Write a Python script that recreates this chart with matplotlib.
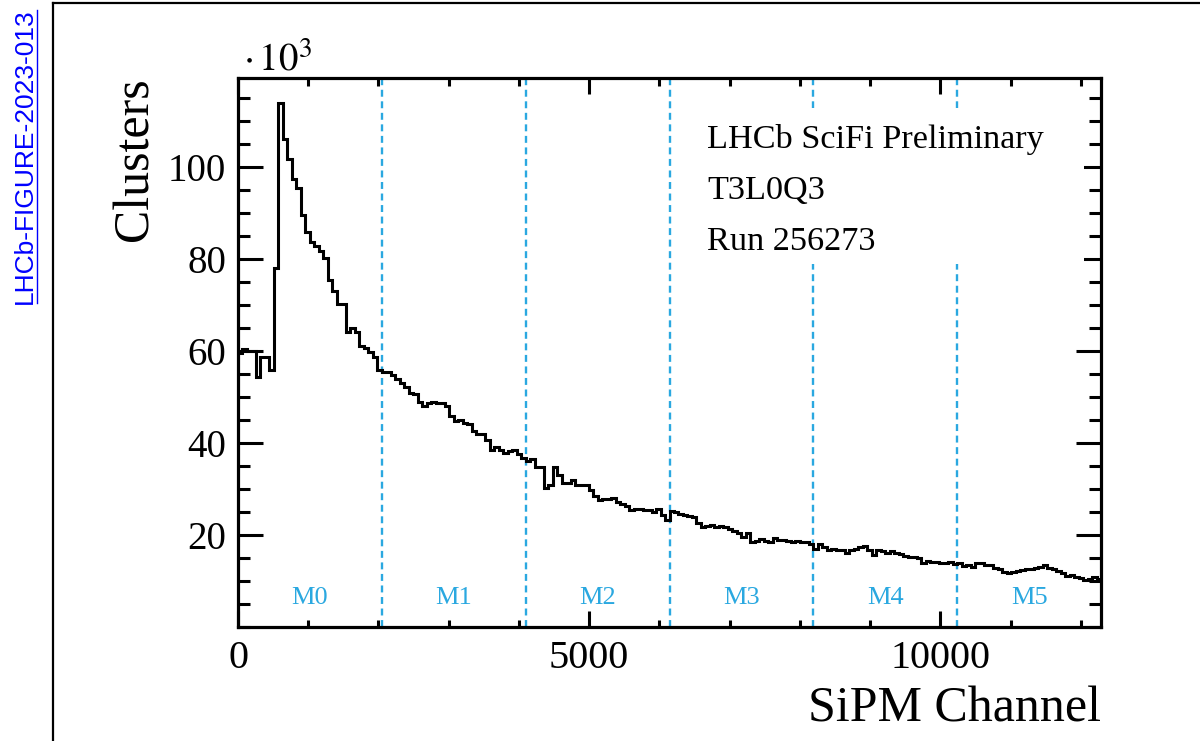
import numpy as np
import matplotlib
matplotlib.use("Agg")
import matplotlib.pyplot as plt
from matplotlib.ticker import MultipleLocator, FixedLocator
from matplotlib.lines import Line2D
from matplotlib.patches import Rectangle

# ---------------- data ----------------
bin_width = 64
n_channels = 12288
module_width = 2048
modules = ["M0", "M1", "M2", "M3", "M4", "M5"]

# clusters per 64-channel bin, in units of 10^3
clusters_m0 = [59.6, 60.3, 60.0, 60.0, 54.3, 58.7, 58.7, 55.8, 78.0, 113.9, 106.0, 101.7, 97.4, 95.3, 89.6, 85.9,
               83.6, 82.8, 81.7, 80.1, 75.4, 73.0, 70.1, 70.1, 64.0, 65.0, 64.0, 61.1, 60.5, 59.8, 58.7, 55.8]
clusters_m1 = [55.4, 55.4, 54.7, 53.8, 52.9, 52.2, 50.7, 50.6, 48.9, 48.0, 48.7, 48.9, 48.6, 48.6, 48.0, 45.8,
               44.8, 44.9, 44.2, 44.0, 42.6, 42.0, 42.0, 40.6, 38.4, 39.0, 38.4, 37.8, 38.3, 38.4, 37.5, 36.6]
clusters_m2 = [36.1, 36.4, 34.8, 34.8, 30.1, 30.8, 34.8, 33.0, 31.3, 31.3, 32.0, 30.8, 30.8, 30.8, 29.7, 28.4,
               27.5, 27.7, 27.8, 27.9, 27.2, 26.7, 26.2, 25.4, 25.5, 25.5, 25.4, 25.3, 25.0, 25.5, 24.3, 23.3]
clusters_m3 = [25.2, 25.0, 24.5, 24.3, 24.1, 23.8, 22.6, 21.6, 21.9, 22.1, 21.6, 21.9, 21.6, 21.2, 20.9, 20.3,
               19.6, 20.3, 18.5, 18.7, 19.0, 18.7, 18.5, 19.2, 18.9, 18.9, 18.7, 18.5, 18.7, 18.5, 18.5, 18.0]
clusters_m4 = [17.0, 18.0, 17.4, 16.7, 16.8, 16.7, 16.6, 16.0, 16.6, 17.0, 17.4, 17.5, 16.6, 15.6, 16.6, 16.4,
               16.1, 16.4, 16.0, 15.8, 15.4, 15.1, 15.1, 15.0, 13.8, 14.3, 14.1, 14.0, 13.8, 13.8, 14.0, 13.6]
clusters_m5 = [13.8, 13.2, 13.4, 13.0, 13.9, 13.8, 13.4, 13.4, 12.7, 12.5, 12.0, 11.7, 12.0, 12.2, 12.3, 12.5,
               12.6, 12.7, 12.9, 13.4, 12.7, 12.5, 12.2, 11.7, 11.0, 11.2, 10.7, 10.5, 10.2, 10.3, 10.8, 10.3]

info_lines = ["LHCb SciFi Preliminary", "T3L0Q3", "Run 256273"]
x_tick_values = [0, 5000, 10000]
x_tick_labels = ["0", "5000", "10000"]
y_tick_values = [20, 40, 60, 80, 100]
y_tick_labels = ["20", "40", "60", "80", "100"]

values = np.array(clusters_m0 + clusters_m1 + clusters_m2 + clusters_m3 + clusters_m4 + clusters_m5)
edges = np.arange(0, n_channels + bin_width, bin_width)

# ---------------- style ----------------
plt.rcParams['font.family'] = ['Liberation Serif', 'DejaVu Serif']
plt.rcParams['mathtext.fontset'] = 'stix'
plt.rcParams['lines.scale_dashes'] = False
BLUE = '#2aa8e0'

W, H = 1200, 741
fig = plt.figure(figsize=(W / 100, H / 100), dpi=100)
ax = fig.add_axes([238 / W, 1 - 626.7 / H, (1101 - 238) / W, (626.7 - 77.5) / H])

# module separators
for k in range(1, len(modules)):
    ax.axvline(k * module_width, color=BLUE, lw=1.7, dashes=(5, 3.3), zorder=1)

# white pave behind the text block
ax.add_patch(Rectangle((6350, 78.8), 5700, 33.9, facecolor='white', edgecolor='none', zorder=2))

ax.stairs(values, edges, baseline=None, color='black', lw=2.2, zorder=3)

for i, name in enumerate(modules):
    ax.text((i + 0.5) * module_width, 6.3, name, color=BLUE, fontsize=19,
            ha='center', va='center', zorder=4)

ax.set_xlim(0, n_channels)
ax.set_ylim(0, 119.4)

ax.xaxis.set_major_locator(FixedLocator(x_tick_values))
ax.set_xticklabels(x_tick_labels)
ax.xaxis.set_minor_locator(MultipleLocator(1000))
ax.yaxis.set_major_locator(FixedLocator(y_tick_values))
ax.set_yticklabels(y_tick_labels)
ax.yaxis.set_minor_locator(MultipleLocator(5))

for s in ax.spines.values():
    s.set_linewidth(2.3)

ax.tick_params(axis='both', which='both', direction='in', top=True, right=True, width=2.2)
ax.tick_params(axis='x', which='major', length=11.5, labelsize=29, pad=9.5)
ax.tick_params(axis='x', which='minor', length=5.4)
ax.tick_params(axis='y', which='major', length=18, labelsize=28, pad=8.5)
ax.tick_params(axis='y', which='minor', length=8.6)

# axis titles
fig.text(135 / W, 1 - 159 / H, "Clusters", rotation=90, fontsize=36, ha='center', va='center')
fig.text(1101 / W, 1 - 722 / H, "SiPM Channel", fontsize=36, ha='right', va='baseline')
fig.text(243 / W, 1 - 70 / H, r"$\cdot\,10^{3}$", fontsize=28, ha='left', va='baseline')

# info text
baselines = [148.3, 198.5, 250.0]
for line, b in zip(info_lines, baselines):
    fig.text(707 / W, 1 - b / H, line, fontsize=24.7, ha='left', va='baseline', zorder=5)

# side label and frame
fig.text(25 / W, 1 - 156.5 / H, "LHCb-FIGURE-2023-013", rotation=90, color='#0000ff',
         fontsize=19, family=['Liberation Sans', 'DejaVu Sans'], ha='center', va='center')
fig.add_artist(Line2D([37 / W, 37 / W], [1 - 303 / H, 1 - 10 / H], color='#0000ff', lw=1.0))
fig.add_artist(Line2D([52.5 / W, 52.5 / W], [0, 1 - 3 / H], color='black', lw=1.6))
fig.add_artist(Line2D([52.5 / W, 1], [1 - 3 / H, 1 - 3 / H], color='black', lw=1.6))

fig.savefig("out.png", dpi=100)
